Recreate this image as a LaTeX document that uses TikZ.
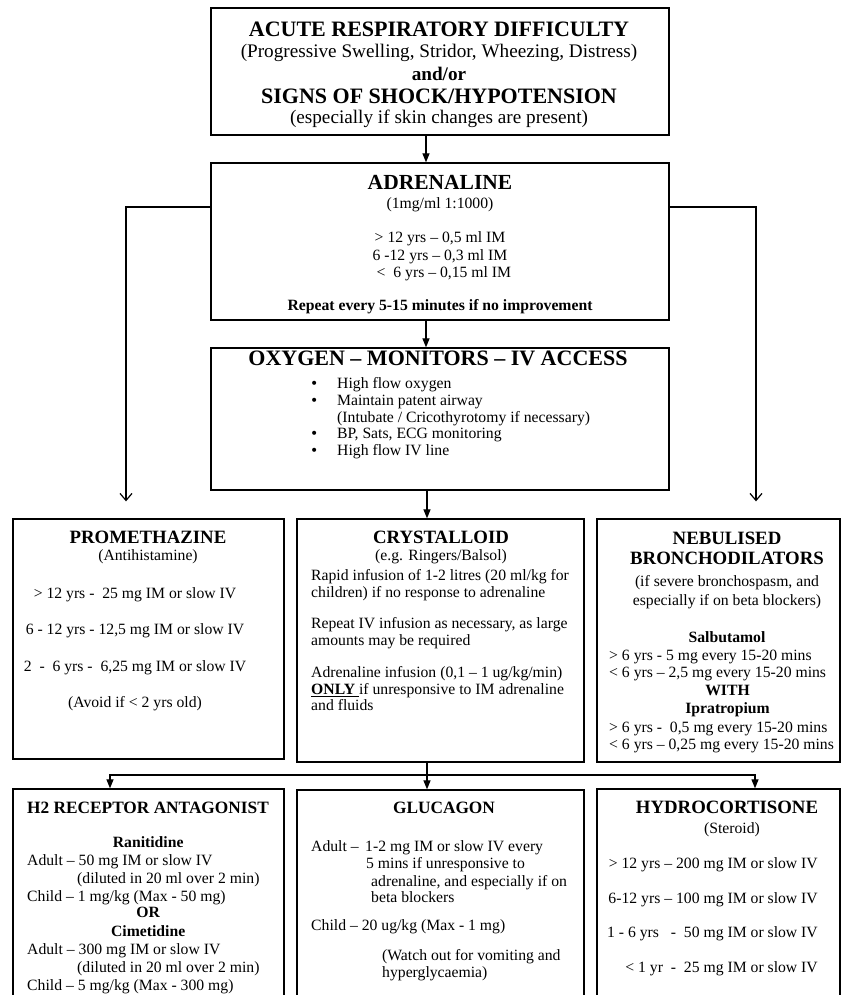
\documentclass[tikz,border=0pt]{standalone}
\usepackage{fontspec}
\setmainfont{Liberation Serif}
\newfontfamily\bulfont{DejaVu Sans}
\usetikzlibrary{arrows.meta}
\newcommand\fs[1]{\fontsize{#1}{0}\selectfont}
\newcommand\Ln[1]{\smash{#1}}
\newcommand\bul{\makebox[28pt][l]{\hspace*{1pt}{\bulfont\fs{14}•}}}
\tikzset{
  box/.style={draw, line width=1.3pt, inner sep=0pt, rectangle},
  txt/.style={inner sep=0pt, font={\fs{15.7}\lineskip=0pt\lineskiplimit=-\maxdimen}},
  conn/.style={line width=1.2pt},
  ftip/.style={-{Triangle[length=9pt,width=7pt]}},
  otip/.style={-{Straight Barb[length=7pt,width=12pt]}},
}
\begin{document}
\begin{tikzpicture}[x=1pt,y=-1pt]
\useasboundingbox (0,0) rectangle (842,995);
\clip (0,0) rectangle (842,995);
% boxes
\node[box, minimum width=458pt, minimum height=127pt] (top) at (440,71.5) {};
\node[box, minimum width=458pt, minimum height=157pt] (adr) at (440,241.5) {};
\node[box, minimum width=458pt, minimum height=142pt] (oxy) at (440,419) {};
\node[box, minimum width=271pt, minimum height=240pt] (prom) at (148.5,639) {};
\node[box, minimum width=287pt, minimum height=243pt] (crys) at (440.5,640.5) {};
\node[box, minimum width=243pt, minimum height=243pt] (neb) at (718.5,640.5) {};
\node[box, minimum width=271pt, minimum height=221pt] (h2) at (148.5,899.5) {};
\node[box, minimum width=287pt, minimum height=220pt] (gluc) at (440.5,900) {};
\node[box, minimum width=243pt, minimum height=221pt] (hyd) at (718.5,899.5) {};
% texts
\node[txt, anchor=north, align=center] (toptxt) at (439,36) {%
\Ln{\fs{22}\bfseries ACUTE RESPIRATORY DIFFICULTY}\\[21pt]
\fs{19.2}(Progressive Swelling, Stridor, Wheezing, Distress)\\[23pt]
\fs{19.2}\bfseries and/or\\[23pt]
\fs{22}\bfseries SIGNS OF SHOCK/HYPOTENSION\\[20pt]
\fs{19.2}(especially if skin changes are present)};
\node[txt, anchor=north, align=center] (adrtxt) at (440,189) {%
\Ln{\fs{21.5}\bfseries ADRENALINE}\\[19pt]
(1mg/ml 1:1000)\\[34pt]
> 12 yrs – 0,5 ml IM\\[18pt]
6 -12 yrs – 0,3 ml IM\\[17pt]
\ \ < \ 6 yrs – 0,15 ml IM\\[33pt]
\bfseries Repeat every 5-15 minutes if no improvement};
\node[txt, anchor=north, align=center] (oxytitle) at (438,365) {%
\Ln{\fs{22}\bfseries OXYGEN – MONITORS – IV ACCESS}};
\node[txt, anchor=north west, align=left] (oxytxt) at (309,388) {%
\Ln{\bul High flow oxygen}\\[17pt]
\bul Maintain patent airway\\[17pt]
\hspace*{28pt}(Intubate / Cricothyrotomy if necessary)\\[16.5pt]
\bul BP, Sats, ECG monitoring\\[16.5pt]
\bul High flow IV line};
\node[txt, anchor=north, align=center] (promtitle) at (148,543) {%
\Ln{\fs{18.8}\bfseries PROMETHAZINE}\\[17pt]
(Antihistamine)};
\node[txt, anchor=north, align=center] (promtxt) at (135,598) {%
\Ln{> 12 yrs - \ 25 mg IM or slow IV}\\[36.5pt]
6 - 12 yrs - 12,5 mg IM or slow IV\\[36.5pt]
2 \ - \ 6 yrs - \ 6,25 mg IM or slow IV\\[36.5pt]
(Avoid if < 2 yrs old)};
\node[txt, anchor=north, align=center] (crystitle) at (441,543) {%
\Ln{\fs{18.8}\bfseries CRYSTALLOID}\\[17pt]
(e.g. Ringers/Balsol)};
\node[txt, anchor=north west, align=left] (crystxt) at (311,580) {%
\Ln{Rapid infusion of 1-2 litres (20 ml/kg for}\\[17pt]
children) if no response to adrenaline\\[31pt]
Repeat IV infusion as necessary, as large\\[17pt]
amounts may be required\\[32pt]
Adrenaline infusion (0,1 – 1 ug/kg/min)\\[17pt]
\underline{\bfseries ONLY }if unresponsive to IM adrenaline\\[16.5pt]
and fluids};
\node[txt, anchor=north, align=center] (nebtitle) at (727,544) {%
\Ln{\fs{18.8}\bfseries NEBULISED}\\[20pt]
\fs{18.8}\bfseries BRONCHODILATORS\\[22pt]
(if severe bronchospasm, and\\[19pt]
especially if on beta blockers)\\[37pt]
\bfseries Salbutamol};
\node[txt, anchor=north west, align=left] (nebsal) at (609,660) {%
\Ln{> 6 yrs - 5 mg every 15-20 mins}\\[17pt]
< 6 yrs – 2,5 mg every 15-20 mins};
\node[txt, anchor=north, align=center] (nebwith) at (727.5,695) {%
\Ln{\bfseries WITH}\\[18pt]
\bfseries Ipratropium};
\node[txt, anchor=north west, align=left] (nebipr) at (609,732) {%
\Ln{> 6 yrs - \ 0,5 mg every 15-20 mins}\\[17pt]
< 6 yrs – 0,25 mg every 15-20 mins};
\node[txt, anchor=north, align=center] (h2title) at (148,812.5) {%
\Ln{\fs{17.3}\bfseries H2 RECEPTOR ANTAGONIST}};
\node[txt, anchor=north west, align=left] (h2txt) at (27,847) {%
\Ln{\makebox[242pt][c]{\bfseries Ranitidine}}\\[18.5pt]
Adult – 50 mg IM or slow IV\\[18pt]
\hspace*{50pt}(diluted in 20 ml over 2 min)\\[18pt]
Child – 1 mg/kg (Max - 50 mg)\\[16pt]
\makebox[242pt][c]{\bfseries OR}\\[18.5pt]
\makebox[242pt][c]{\bfseries Cimetidine}\\[18pt]
Adult – 300 mg IM or slow IV\\[18.5pt]
\hspace*{50pt}(diluted in 20 ml over 2 min)\\[17.5pt]
Child – 5 mg/kg (Max - 300 mg)};
\node[txt, anchor=north, align=center] (glutitle) at (444,813) {%
\Ln{\fs{17.3}\bfseries GLUCAGON}};
\node[txt, anchor=north west, align=left] (glutxt) at (311,851) {%
\Ln{\makebox[54pt][l]{Adult –}1-2 mg IM or slow IV every}\\[17.5pt]
\hspace*{55pt}5 mins if unresponsive to\\[17.5pt]
\hspace*{60pt}adrenaline, and especially if on\\[16.5pt]
\hspace*{60pt}beta blockers\\[28pt]
Child – 20 ug/kg (Max - 1 mg)\\[29.5pt]
\hspace*{71pt}(Watch out for vomiting and\\[17.5pt]
\hspace*{71pt}hyperglycaemia)};
\node[txt, anchor=north, align=center] (hydtitle) at (727,813) {%
\Ln{\fs{18.8}\bfseries HYDROCORTISONE}\\[20pt]
\hspace*{10pt}(Steroid)};
\node[txt, anchor=north east, align=right] (hydtxt) at (818,868) {%
\Ln{> 12 yrs – 200 mg IM or slow IV}\\[35pt]
6-12 yrs – 100 mg IM or slow IV\\[34pt]
1 - 6 yrs \ \ - \ 50 mg IM or slow IV\\[35pt]
< 1 yr \ - \ 25 mg IM or slow IV};
% connectors
\coordinate (j0) at (426,0);
\coordinate (j1) at (427,0);
\coordinate (aL) at (126,207);
\coordinate (aR) at (756,207);
\coordinate (bL) at (110,775);
\coordinate (bR) at (755,775);
\draw[conn,ftip] (top.south -| j0) -- (adr.north -| j0);
\draw[conn,ftip] (adr.south -| j0) -- (oxy.north -| j0);
\draw[conn,ftip] (oxy.south -| j1) -- (crys.north -| j1);
\draw[conn,otip,shorten >=17pt] (adr.west |- aL) -- (aL) -- (prom.north -| aL);
\draw[conn,otip,shorten >=17pt] (adr.east |- aR) -- (aR) -- (neb.north -| aR);
\draw[conn,ftip] (crys.south -| j1) -- (gluc.north -| j1);
\draw[conn,{Triangle[length=9pt,width=7pt]}-{Triangle[length=9pt,width=7pt]}] (h2.north -| bL) |- (bR) -- (hyd.north -| bR);
\end{tikzpicture}
\end{document}
